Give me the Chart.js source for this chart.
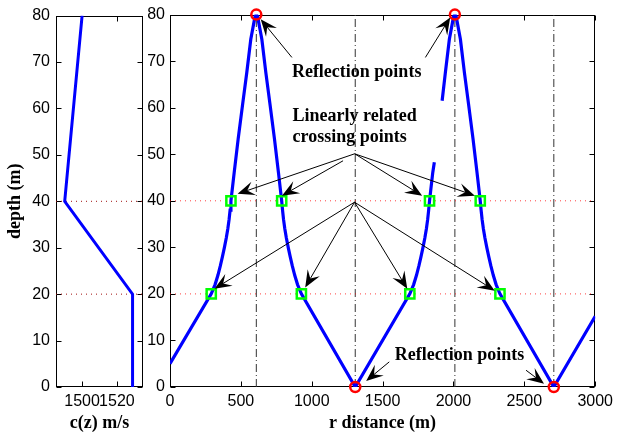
<!DOCTYPE html>
<html>
<head>
<meta charset="utf-8">
<script src="https://cdn.jsdelivr.net/npm/chart.js@4.4.1/dist/chart.umd.min.js"></script>
<style>
  body { margin: 0; background: #fff; }
  #wrap { position: relative; width: 618px; height: 435px; }
  #wrap canvas { position: absolute; left: 0; top: 0; }
</style>
</head>
<body>
<div id="wrap">
  <canvas id="profile" width="618" height="435"></canvas>
  <canvas id="rays" width="618" height="435"></canvas>
</div>
<script>
// depth axis, shared by both panels
var depthTicks = [0, 10, 20, 30, 40, 50, 60, 70, 80];
var layerDepths = [20, 40];

// sound speed profile (left panel)
var speedTicks = [1500, 1520];
var profileDepth = [0, 20, 40, 80];
var profileSpeed = [1529, 1529, 1490, 1500];

// ray path (right panel); null depth = gap in the drawn line
var rangeTicks = [0, 500, 1000, 1500, 2000, 2500, 3000];
var rayR = [
  0, 291, 318, 338, 355, 370, 384, 397, 408, 417, 424, 430, 453, 481, 511, 542, 570, 600, 609,
  618, 648, 676, 707, 737, 765, 788, 794, 801, 810, 821, 834, 848, 863, 880, 900, 927, 1307,
  1692, 1719, 1739, 1756, 1771, 1785, 1798, 1809, 1818, 1825, 1831, 1854, 1865, 1892, 1920, 1943, 1971, 2001, 2010,
  2019, 2049, 2077, 2108, 2138, 2166, 2189, 2195, 2202, 2211, 2222, 2235, 2249, 2264, 2281, 2301, 2328, 2708,
  3000
];
var rayDepth = [
  5, 20, 22, 24, 26, 28, 30, 32, 34, 36, 38, 40, 46.1, 53.3, 60.4, 67.6, 74.7, 79.6, 80,
  79.6, 74.7, 67.6, 60.4, 53.3, 46.1, 40, 38, 36, 34, 32, 30, 28, 26, 24, 22, 20, 0,
  20, 22, 24, 26, 28, 30, 32, 34, 36, 38, 40, 46.1, 48.3, null, 61.5, 67.6, 74.7, 79.6, 80,
  79.6, 74.7, 67.6, 60.4, 53.3, 46.1, 40, 38, 36, 34, 32, 30, 28, 26, 24, 22, 20, 0,
  15.2
];

var reflR = [609, 1307, 2010, 2708];
var reflDepth = [80, 0, 80, 0];
var crossR = [430, 788, 1831, 2189, 291, 927, 1692, 2328];
var crossDepth = [40, 40, 40, 40, 20, 20, 20, 20];

// annotations (data units: r, depth)
var noteText = ["Reflection points", "Linearly related", "crossing points", "Reflection points"];
var noteR = [860, 865, 865, 1586];
var noteDepth = [67.6, 58.1, 53.6, 6.8];
var arrowFrom = [[860, 70.8], [1802, 70.8], [1303, 50.1], [1221, 48.6], [1303, 50.1], [1303, 50.1],
                 [1302, 39.7], [1302, 39.7], [1302, 39.7], [1302, 39.7], [1547, 5.4], [2512, 3.6]];
var arrowTo = [[640, 79], [1977, 79.4], [477, 41.5], [790, 41.1], [1779, 41.1], [2151, 41.1],
               [314, 21.1], [954, 21.4], [1674, 21.1], [2291, 20.7], [1384, 1.3], [2639, 0.7]];

var tickFont = { family: "'Liberation Sans', Arial, sans-serif", size: 16 };
var titleFont = { family: "'Liberation Serif', 'Times New Roman', serif", size: 18, weight: 'bold', lineHeight: 1 };

function fixTicks(values) {
  return function (scale) {
    scale.ticks = values.map(function (v) { return { value: v }; });
  };
}

function plain(v) { return String(v); }

function pts(xs, ys) {
  return xs.map(function (v, i) { return { x: v, y: ys[i] }; });
}

// matlab style box with inward ticks
var boxPlugin = {
  id: 'box',
  beforeDatasetsDraw: function (chart) {
    var ctx = chart.ctx, a = chart.chartArea, sx = chart.scales.x, sy = chart.scales.y;
    var l = Math.round(a.left) + 0.5, r = Math.round(a.right) - 0.5;
    var t = Math.round(a.top) + 0.5, b = Math.round(a.bottom) - 0.5;
    ctx.save();
    ctx.strokeStyle = '#000';
    ctx.lineWidth = 1;
    ctx.strokeRect(l, t, r - l, b - t);
    ctx.beginPath();
    sx.ticks.forEach(function (tk) {
      var px = Math.round(sx.getPixelForValue(tk.value)) + 0.5;
      ctx.moveTo(px, b); ctx.lineTo(px, b - 5);
      ctx.moveTo(px, t); ctx.lineTo(px, t + 5);
    });
    sy.ticks.forEach(function (tk) {
      var py = Math.round(sy.getPixelForValue(tk.value)) + 0.5;
      ctx.moveTo(l, py); ctx.lineTo(l + 5, py);
      ctx.moveTo(r, py); ctx.lineTo(r - 5, py);
    });
    ctx.stroke();
    ctx.restore();
  }
};

var notePlugin = {
  id: 'notes',
  afterDatasetsDraw: function (chart) {
    var ctx = chart.ctx, sx = chart.scales.x, sy = chart.scales.y;
    ctx.save();
    ctx.fillStyle = '#000';
    ctx.strokeStyle = '#000';
    ctx.lineWidth = 1;
    ctx.font = "bold 18px 'Liberation Serif', 'Times New Roman', serif";
    ctx.textBaseline = 'middle';
    ctx.textAlign = 'left';
    noteText.forEach(function (t, i) {
      ctx.fillText(t, sx.getPixelForValue(noteR[i]), sy.getPixelForValue(noteDepth[i]));
    });
    arrowFrom.forEach(function (f, i) {
      var x0 = sx.getPixelForValue(f[0]), y0 = sy.getPixelForValue(f[1]);
      var x1 = sx.getPixelForValue(arrowTo[i][0]), y1 = sy.getPixelForValue(arrowTo[i][1]);
      var ang = Math.atan2(y1 - y0, x1 - x0), c = Math.cos(ang), s = Math.sin(ang);
      var L = 17, W = 7;
      ctx.beginPath();
      ctx.moveTo(x0, y0);
      ctx.lineTo(x1 - 0.6 * L * c, y1 - 0.6 * L * s);
      ctx.stroke();
      ctx.beginPath();
      ctx.moveTo(x1, y1);
      ctx.lineTo(x1 - L * c + W * s, y1 - L * s - W * c);
      ctx.lineTo(x1 - 0.6 * L * c, y1 - 0.6 * L * s);
      ctx.lineTo(x1 - L * c - W * s, y1 - L * s + W * c);
      ctx.closePath();
      ctx.fill();
    });
    ctx.restore();
  }
};

function hLines(xmin, xmax, color) {
  return layerDepths.map(function (d) {
    return {
      data: [{ x: xmin, y: d }, { x: xmax, y: d }],
      showLine: true, borderColor: color, borderWidth: 1, borderDash: [1, 4],
      pointRadius: 0, order: 3
    };
  });
}

// left panel: c(z)
new Chart(document.getElementById('profile'), {
  type: 'scatter',
  data: {
    datasets: hLines(1485, 1535, '#a01010').concat([{
      data: pts(profileSpeed, profileDepth),
      showLine: true, borderColor: '#0000ff', borderWidth: 3, pointRadius: 0, order: 1
    }])
  },
  options: {
    responsive: false,
    animation: false,
    layout: { padding: { left: 0, right: 475, top: 13, bottom: 0 } },
    plugins: { legend: { display: false }, tooltip: { enabled: false } },
    scales: {
      x: {
        type: 'linear', min: 1485, max: 1535,
        afterBuildTicks: fixTicks(speedTicks),
        afterFit: function (s) { s.height = 48; },
        grid: { display: false, drawTicks: false }, border: { display: false },
        ticks: { font: tickFont, color: '#000', padding: 5, maxRotation: 0, autoSkip: false, callback: plain },
        title: { display: true, text: 'c(z) m/s', font: titleFont, color: '#000', padding: { top: 0, bottom: 3 } }
      },
      y: {
        type: 'linear', min: 0, max: 80,
        afterBuildTicks: fixTicks(depthTicks),
        afterFit: function (s) { s.width = 56; },
        grid: { display: false, drawTicks: false }, border: { display: false },
        ticks: { font: tickFont, color: '#000', padding: 6, callback: plain },
        title: { display: true, text: 'depth (m)', font: titleFont, color: '#000', padding: { top: 6, bottom: 0 } }
      }
    }
  },
  plugins: [boxPlugin]
});

// right panel: ray path
var vLines = reflR.map(function (r) {
  return {
    data: [{ x: r, y: depthTicks[0] }, { x: r, y: depthTicks[depthTicks.length - 1] }],
    showLine: true, borderColor: '#333', borderWidth: 1, borderDash: [8, 3, 1, 3],
    pointRadius: 0, order: 3
  };
});

new Chart(document.getElementById('rays'), {
  type: 'scatter',
  data: {
    datasets: hLines(rangeTicks[0], rangeTicks[rangeTicks.length - 1], 'rgba(255,0,0,0.75)').concat(vLines, [
      {
        data: pts(rayR, rayDepth),
        showLine: true, spanGaps: false, borderColor: '#0000ff', borderWidth: 3.2, pointRadius: 0, order: 2
      },
      {
        data: pts(reflR, reflDepth),
        pointStyle: 'circle', pointRadius: 5, pointBorderWidth: 2.5,
        borderColor: '#ff0000', backgroundColor: 'rgba(0,0,0,0)', clip: false, order: 1
      },
      {
        data: pts(crossR, crossDepth),
        pointStyle: 'rect', pointRadius: 6.5, pointBorderWidth: 2.5,
        borderColor: '#00ff00', backgroundColor: 'rgba(0,0,0,0)', clip: false, order: 0
      }
    ])
  },
  options: {
    responsive: false,
    animation: false,
    layout: { padding: { left: 140, right: 17, top: 13, bottom: 0 } },
    plugins: { legend: { display: false }, tooltip: { enabled: false } },
    scales: {
      x: {
        type: 'linear', min: 0, max: 3000,
        afterBuildTicks: fixTicks(rangeTicks),
        afterFit: function (s) { s.height = 48; },
        grid: { display: false, drawTicks: false }, border: { display: false },
        ticks: { font: tickFont, color: '#000', padding: 5, maxRotation: 0, autoSkip: false, callback: plain },
        title: { display: true, text: 'r distance (m)', font: titleFont, color: '#000', padding: { top: 0, bottom: 3 } }
      },
      y: {
        type: 'linear', min: 0, max: 80,
        afterBuildTicks: fixTicks(depthTicks),
        afterFit: function (s) { s.width = 30; },
        grid: { display: false, drawTicks: false }, border: { display: false },
        ticks: { font: tickFont, color: '#000', padding: 5, callback: plain }
      }
    }
  },
  plugins: [boxPlugin, notePlugin]
});
</script>
</body>
</html>
